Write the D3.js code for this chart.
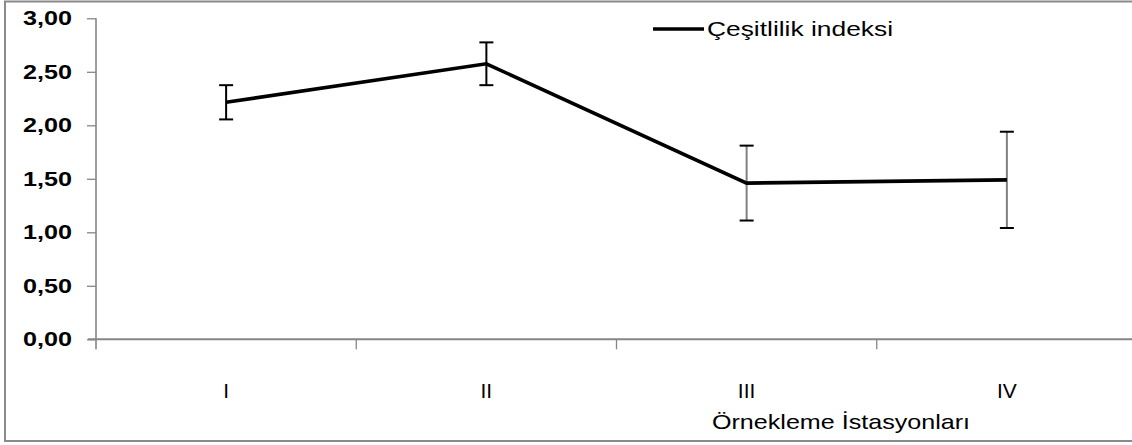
<!DOCTYPE html>
<html>
<head>
<meta charset="utf-8">
<script src="https://cdn.jsdelivr.net/npm/d3@7"></script>
<style>
  html, body { margin: 0; padding: 0; background: #fff; }
  svg { display: block; }
</style>
</head>
<body>
<svg id="chart" width="1132" height="445"></svg>
<script>
// Diversity index per sampling station, with error (± SD)
const stations = ["I", "II", "III", "IV"];
const indexValues = [2.215, 2.575, 1.46, 1.49];
const errorValues = [0.16, 0.20, 0.35, 0.45];
const errorBarColors = ["#000000", "#000000", "#808080", "#808080"];
const yTicks = [0, 0.5, 1, 1.5, 2, 2.5, 3];
const seriesName = "Çeşitlilik indeksi";
const xTitle = "Örnekleme İstasyonları";

const svg = d3.select("#chart");
const axisColor = "#868686";
const font = "'Liberation Sans', Arial, sans-serif";

// Outer frame
svg.append("rect")
  .attr("x", 5).attr("y", 1.5)
  .attr("width", 1150).attr("height", 439.5)
  .attr("fill", "none")
  .attr("stroke", "#8a8a8a")
  .attr("stroke-width", 2);

const plot = { left: 96, right: 1137, top: 18.3, bottom: 339.3 };

const x = d3.scalePoint()
  .domain(stations)
  .range([plot.left, plot.right])
  .padding(0.5);
const band = x.step();

const y = d3.scaleLinear()
  .domain([0, 3])
  .range([plot.bottom, plot.top]);

// Y axis
const yAxis = svg.append("g")
  .attr("transform", `translate(${plot.left},0)`)
  .call(d3.axisLeft(y).tickValues(yTicks).tickSize(9).tickPadding(15)
    .tickFormat(d => d3.format(".2f")(d).replace(".", ",")));
yAxis.select(".domain").remove();
yAxis.selectAll(".tick line").attr("stroke", axisColor).attr("stroke-width", 1.3);
yAxis.selectAll(".tick text")
  .attr("fill", "#000")
  .attr("textLength", 49)
  .attr("lengthAdjust", "spacingAndGlyphs")
  .style("font-family", font)
  .style("font-weight", "bold")
  .style("font-size", "20px");
// vertical axis line, running a little below zero
svg.append("line")
  .attr("x1", plot.left).attr("x2", plot.left)
  .attr("y1", plot.top).attr("y2", plot.bottom + 10)
  .attr("stroke", axisColor).attr("stroke-width", 1.6);

// X axis: ticks sit on category boundaries
const boundaries = stations.map(s => x(s) - band / 2);
svg.append("line")
  .attr("x1", plot.left - 8).attr("x2", plot.right)
  .attr("y1", plot.bottom).attr("y2", plot.bottom)
  .attr("stroke", axisColor).attr("stroke-width", 2);
svg.selectAll(".xtick").data(boundaries.slice(1)).enter().append("line")
  .attr("class", "xtick")
  .attr("x1", d => d).attr("x2", d => d)
  .attr("y1", plot.bottom).attr("y2", plot.bottom + 10)
  .attr("stroke", axisColor).attr("stroke-width", 1.3);

svg.selectAll(".xlabel").data(stations).enter().append("text")
  .attr("class", "xlabel")
  .attr("x", d => x(d))
  .attr("y", 398)
  .attr("text-anchor", "middle")
  .style("font-family", font)
  .style("font-size", "21px")
  .text(d => d);

svg.append("text")
  .attr("x", 712).attr("y", 429)
  .attr("textLength", 258)
  .attr("lengthAdjust", "spacingAndGlyphs")
  .style("font-family", font)
  .style("font-size", "21px")
  .text(xTitle);

// Error bars
const rows = stations.map((s, i) => ({ s, v: indexValues[i], e: errorValues[i], c: errorBarColors[i] }));
const eb = svg.selectAll(".err").data(rows).enter().append("g").attr("class", "err");
eb.append("line")
  .attr("x1", d => x(d.s)).attr("x2", d => x(d.s))
  .attr("y1", d => y(d.v + d.e)).attr("y2", d => y(d.v - d.e))
  .attr("stroke", d => d.c).attr("stroke-width", 2);
[1, -1].forEach(sign => {
  eb.append("line")
    .attr("x1", d => x(d.s) - 7).attr("x2", d => x(d.s) + 7)
    .attr("y1", d => y(d.v + sign * d.e)).attr("y2", d => y(d.v + sign * d.e))
    .attr("stroke", "#000").attr("stroke-width", 2);
});

// Series line
const line = d3.line().x(d => x(d.s)).y(d => y(d.v));
svg.append("path")
  .datum(rows)
  .attr("d", line)
  .attr("fill", "none")
  .attr("stroke", "#000")
  .attr("stroke-width", 3.6)
  .attr("stroke-linejoin", "miter");

// Legend
const lg = svg.append("g");
lg.append("line")
  .attr("x1", 653).attr("x2", 704)
  .attr("y1", 29).attr("y2", 29)
  .attr("stroke", "#000").attr("stroke-width", 3.6);
lg.append("text")
  .attr("x", 707).attr("y", 36)
  .attr("textLength", 186)
  .attr("lengthAdjust", "spacingAndGlyphs")
  .style("font-family", font)
  .style("font-size", "21px")
  .text(seriesName);
</script>
</body>
</html>
